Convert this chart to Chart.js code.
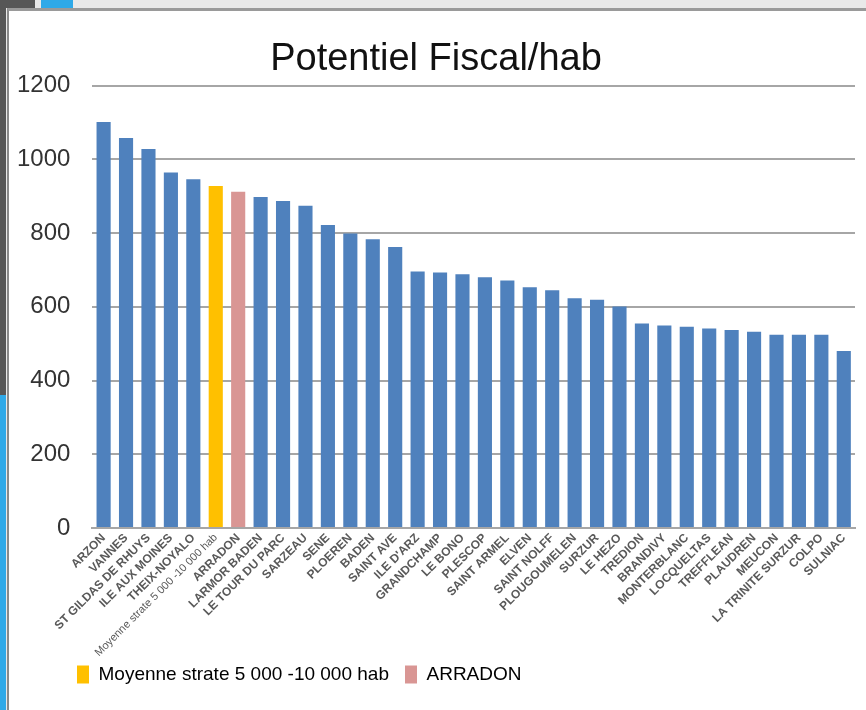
<!DOCTYPE html>
<html>
<head>
<meta charset="utf-8">
<script src="https://cdn.jsdelivr.net/npm/chart.js@4.4.1/dist/chart.umd.min.js"></script>
<style>
  html, body { margin: 0; padding: 0; }
  body { width: 866px; height: 710px; position: relative; overflow: hidden; background: #e9e9e9; }
  .deco { position: absolute; }
  #panel {
    position: absolute; left: 7px; top: 8px; width: 857px; height: 702px;
    background: #fff; border-top: 3px solid #9a9a9a; border-left: 2px solid #8a8a8a;
  }
  #wrap { position: absolute; left: 0; top: 0; width: 857px; height: 699px; }
</style>
</head>
<body>
<div class="deco" style="left:0;top:0;width:35px;height:8px;background:#575757"></div>
<div class="deco" style="left:41px;top:0;width:32px;height:8px;background:#2fa9e8"></div>
<div class="deco" style="left:0;top:0;width:6px;height:395px;background:#575757"></div>
<div class="deco" style="left:0;top:395px;width:6px;height:315px;background:#2fa9e8"></div>
<div id="panel">
  <div id="wrap"><canvas id="myChart"></canvas></div>
</div>
<script>
(() => {
  'use strict'

  const communes = [
    'ARZON', 'VANNES', 'ST GILDAS DE RHUYS', 'ILE AUX MOINES', 'THEIX-NOYALO',
    'Moyenne strate 5 000 -10 000 hab', 'ARRADON', 'LARMOR BADEN', 'LE TOUR DU PARC', 'SARZEAU',
    'SENE', 'PLOEREN', 'BADEN', 'SAINT AVE', "ILE D'ARZ",
    'GRANDCHAMP', 'LE BONO', 'PLESCOP', 'SAINT ARMEL', 'ELVEN',
    'SAINT NOLFF', 'PLOUGOUMELEN', 'SURZUR', 'LE HEZO', 'TREDION',
    'BRANDIVY', 'MONTERBLANC', 'LOCQUELTAS', 'TREFFLEAN', 'PLAUDREN',
    'MEUCON', 'LA TRINITE SURZUR', 'COLPO', 'SULNIAC'
  ]
  const potentiel = [
    1101, 1058, 1028, 964, 946,
    928, 912, 898, 887, 874,
    822, 799, 783, 762, 696,
    693, 688, 680, 671, 653,
    645, 623, 619, 601, 555,
    549, 546, 541, 537, 532,
    524, 524, 524, 480
  ]
  const yTicks = [0, 200, 400, 600, 800, 1000, 1200]

  const blue = '#4f81bd'
  const orange = '#ffc000'
  const pink = '#d99694'
  const barColors = communes.map(c =>
    c.startsWith('Moyenne') ? orange : (c === 'ARRADON' ? pink : blue))

  // legend sits left of centre in the original, under the first bars,
  // and the long x label runs down beside it
  const layoutTweaks = {
    id: 'layoutTweaks',
    afterLayout(chart) {
      chart.legend.left += 44
      chart.scales.x.bottom += 45
    }
  }

  const ctx = document.getElementById('myChart')
  // eslint-disable-next-line no-unused-vars
  const myChart = new Chart(ctx, {
    type: 'bar',
    plugins: [layoutTweaks],
    data: {
      labels: communes,
      datasets: [{
        label: 'Potentiel Fiscal/hab',
        data: potentiel,
        backgroundColor: barColors,
        barPercentage: 0.63,
        categoryPercentage: 1
      }]
    },
    options: {
      responsive: true,
      maintainAspectRatio: false,
      animation: false,
      layout: { padding: { left: 8, right: 11, top: 0, bottom: 16 } },
      plugins: {
        title: {
          display: true,
          text: 'Potentiel Fiscal/hab',
          color: '#111',
          font: { family: 'Liberation Sans, Arial, sans-serif', size: 38, weight: 'normal' },
          padding: { top: 26, bottom: 3 }
        },
        tooltip: { enabled: false },
        legend: {
          position: 'bottom',
          align: 'start',
          labels: {
            color: '#111',
            font: { family: 'Liberation Sans, Arial, sans-serif', size: 19 },
            boxWidth: 12,
            boxHeight: 18,
            padding: 16,
            generateLabels: () => [
              { text: 'Moyenne strate 5 000 -10 000 hab', fillStyle: orange, strokeStyle: orange, lineWidth: 0, hidden: false },
              { text: 'ARRADON', fillStyle: pink, strokeStyle: pink, lineWidth: 0, hidden: false }
            ]
          },
          onClick: () => {}
        }
      },
      scales: {
        x: {
          grid: { display: false, drawTicks: false },
          border: { display: true, color: '#a6a6a6', width: 2 },
          afterFit: (scale) => {
            scale.height = 121
            scale.paddingLeft = 0
            scale.paddingRight = 0
          },
          ticks: {
            autoSkip: false,
            minRotation: 45,
            maxRotation: 45,
            padding: 3,
            color: '#595959',
            font: (c) => (c.index === 5
              ? { family: 'Liberation Sans, Arial, sans-serif', size: 11, weight: 'normal' }
              : { family: 'Liberation Sans, Arial, sans-serif', size: 12, weight: 'bold' })
          }
        },
        y: {
          min: 0,
          max: 1200,
          afterBuildTicks: (scale) => { scale.ticks = yTicks.map(v => ({ value: v })) },
          // chart.js reserves the tick padding on both sides; keep it on one
          afterFit: (scale) => { scale.width -= 22 },
          grid: { color: '#a6a6a6', lineWidth: 2, drawTicks: false },
          border: { display: false },
          ticks: {
            padding: 22,
            color: '#333',
            font: { family: 'Liberation Sans, Arial, sans-serif', size: 24 },
            callback: (value) => String(value)
          }
        }
      }
    }
  })
})()
</script>
</body>
</html>
